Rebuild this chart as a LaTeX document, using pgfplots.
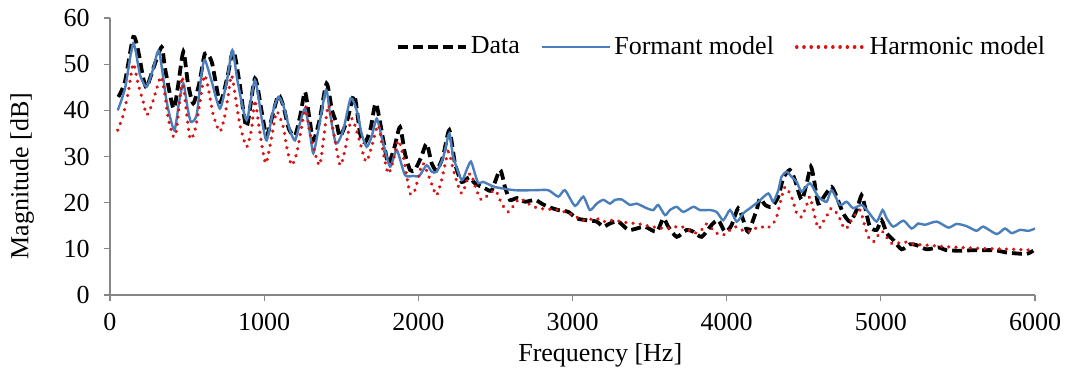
\documentclass[border=0pt]{standalone}
\usepackage{fontspec}
\setmainfont{Liberation Serif}
\usepackage{pgfplots}
\pgfplotsset{compat=1.18}
\definecolor{fblue}{RGB}{74,126,187}
\definecolor{hred}{RGB}{215,20,20}
\definecolor{axgray}{RGB}{134,134,134}
\begin{document}
\fontsize{13}{15.6}\selectfont
\begin{tikzpicture}
\useasboundingbox (-55pt,-42.5pt) rectangle (477.5pt,147.5pt);
\begin{axis}[
  at={(0pt,0pt)}, anchor=south west,
  scale only axis, width=462.5pt, height=138.5pt,
  xmin=0, xmax=6000, ymin=0, ymax=60,
  xtick={0,1000,...,6000}, ytick={0,10,...,60},
  axis x line*=bottom, axis y line*=left,
  axis line style={draw=axgray, line width=0.6pt},
  tick style={draw=axgray, line width=0.6pt},
  tick align=outside, major tick length=3pt,
  /pgf/number format/assume math mode=true,
  scaled x ticks=false,
  xticklabel={\pgfmathprintnumber[fixed,precision=0,1000 sep={}]{\tick}},
  xticklabel style={inner sep=0pt, anchor=north, yshift=-6pt},
  yticklabel style={inner sep=0pt, anchor=east, xshift=-7pt},
  xlabel={Frequency [Hz]}, ylabel={Magnitude [dB]},
  xlabel style={at={(axis description cs:0.53,-0.2166)}, anchor=center},
  ylabel style={at={(axis description cs:-0.0951,0.43)}, anchor=center},
  legend columns=3,
  legend style={draw=none, fill=none, at={(1.021,0.895)}, anchor=east,
    nodes={inner sep=1.5pt}, /tikz/every even column/.append style={column sep=9pt}},
  legend image code/.code={\draw[#1] (0pt,0pt) -- (34pt,0pt);},
]
\addplot[black, line width=1.9pt, dash pattern=on 5pt off 2.5pt, smooth, tension=0.4] coordinates {
(54,42.9)(97,46.2)(151,55.9)(184,52.7)(216,46.9)(238,45)(280,49)(335,53.7)(357,49.1)(411,40.4)
(440,45)(476,52.7)(505,46)(540,41.5)(580,46)(616,52.3)(660,50.5)(713,41.8)(760,47)(800,53)
(840,46)(886,36.4)(940,46.9)(984,39.7)(1016,34.5)(1055,39)(1092,43.3)(1124,41)(1160,36)(1200,34.5)
(1235,39)(1265,44.0)(1295,38)(1319,33.5)(1360,38)(1405,45.8)(1440,40)(1470,37.2)(1492,34.3)(1540,38)
(1585,43.3)(1622,35)(1654,33)(1690,36)(1725,41.5)(1773,33.5)(1805,28.5)(1845,32)(1881,36.4)(1913,30.7)
(1946,27.1)(1978,27.1)(2020,30)(2054,32.8)(2087,28.5)(2119,27)(2160,30)(2201,35.7)(2238,28.5)(2281,24.5)
(2330,25.5)(2367,24.2)(2432,23.1)(2476,22.7)(2530,27.1)(2562,23.4)(2594,20.6)(2640,21)(2692,20.2)(2757,20.6)
(2800,19.8)(2843,19.1)(2908,18.4)(2973,18.0)(3027,16.6)(3092,16.2)(3157,15.9)(3200,14.8)(3243,15.5)(3297,15.9)
(3362,14.1)(3416,14.4)(3470,14.8)(3546,13.7)(3589,16.6)(3621,14.8)(3676,12.6)(3740,14.1)(3784,13.7)(3838,12.6)
(3903,15.2)(3946,16.2)(3989,13.7)(4030,15)(4075,18.8)(4108,16.2)(4140,13.7)(4194,18.4)(4216,20.9)(4250,19.5)
(4292,19.1)(4335,21.3)(4367,25.3)(4410,27.1)(4443,24.9)(4486,20.6)(4519,24.2)(4546,27.8)(4567,24.9)(4594,19.8)
(4637,21.6)(4681,23.4)(4713,21.3)(4756,17.7)(4800,15.9)(4843,18.4)(4875,21.6)(4897,19.1)(4929,14.8)(4973,14.1)
(5005,16.2)(5038,13.4)(5081,11.9)(5135,9.9)(5189,11.0)(5232,10.8)(5297,9.9)(5373,10.3)(5427,9.7)(5513,9.6)
(5600,9.7)(5665,9.7)(5740,9.7)(5816,9.2)(5881,9.0)(5946,8.9)(5989,9.6)
};
\addlegendentry{Data}
\addplot[fblue, line width=1.2pt, smooth, tension=0.4] coordinates {
(50,40.0)(97,44.7)(151,54.5)(195,47.6)(238,45.1)(281,49.1)(318,52.8)(368,41.8)(417,35.7)(448,41.8)
(476,45.8)(504,40.4)(525,37.5)(562,39.0)(595,48.3)(616,50.9)(660,46.2)(713,40.4)(757,46.2)(794,53.0)
(828,46.2)(886,37.9)(940,46.5)(985,38)(1016,33.5)(1059,40)(1092,42.9)(1124,41.1)(1167,35.7)(1200,33.5)
(1232,37.2)(1265,40.4)(1297,35)(1319,30.7)(1351,35.7)(1401,44.4)(1427,39.3)(1466,32.8)(1513,35.7)(1561,42.6)
(1600,40)(1632,35)(1665,32.1)(1697,34.3)(1730,38.2)(1762,34.3)(1816,27.8)(1860,31.4)(1913,26)(1967,25.8)
(2006,25.8)(2054,28.1)(2087,26.7)(2119,26.7)(2162,29.9)(2201,35)(2227,29.9)(2281,24.9)(2313,27.1)(2341,28.9)
(2367,26.3)(2389,24.2)(2421,24.5)(2497,23.4)(2627,22.7)(2757,22.7)(2843,22.7)(2908,21.3)(2951,22.7)(3016,19.3)
(3070,21.3)(3113,18.4)(3157,19.8)(3200,20.6)(3243,19.8)(3275,20.6)(3319,20.7)(3373,19.5)(3416,19.8)(3481,18.8)
(3524,18.4)(3556,19.5)(3600,17.3)(3632,18.4)(3676,19.1)(3719,18.0)(3784,19.1)(3827,18.4)(3892,18.4)(3935,18.0)
(3978,16.2)(4022,18.4)(4065,15.9)(4108,17.7)(4151,18.8)(4205,20.2)(4270,22.0)(4302,20.2)(4335,22.7)(4356,25.6)
(4389,26.7)(4421,25.6)(4454,24.5)(4486,22.4)(4540,24.2)(4594,21.3)(4648,20.2)(4681,22.7)(4735,19.5)(4778,20.2)
(4821,18.8)(4875,19.5)(4919,18.0)(4973,15.9)(5011,18.4)(5038,16.6)(5081,14.8)(5146,16.1)(5200,14.4)(5243,15.5)
(5286,15.2)(5362,15.9)(5438,14.6)(5492,15.4)(5557,14.9)(5621,13.9)(5665,14.8)(5751,13.2)(5805,14.4)(5849,13.4)
(5903,14.1)(5957,13.9)(6000,14.4)
};
\addlegendentry{Formant model}
\addplot[hred, line width=1.8pt, line cap=round, dash pattern=on 0.01pt off 3.6pt, smooth, tension=0.4] coordinates {
(50,35.7)(86,39)(119,44)(151,50.1)(184,45.5)(216,41.8)(238,39.0)(270,41.1)(303,44.7)(331,47.3)
(357,43.3)(378,38.2)(411,34.3)(430,35.5)(454,42.6)(469,47.3)(486,42.6)(519,33.9)(551,35.7)(584,41.8)
(612,47.6)(638,44.7)(670,39)(713,35.4)(746,39)(767,43.3)(789,47.6)(815,42.6)(843,36.8)(886,32.1)
(919,36.1)(940,42.2)(973,35.0)(1010,28.5)(1049,34.3)(1081,39.7)(1124,36.4)(1146,32.1)(1178,28.1)(1211,30.7)
(1243,36.4)(1270,40.8)(1297,35)(1357,28.1)(1384,33.5)(1416,41.1)(1448,35.7)(1492,28.1)(1524,31.4)(1567,38.2)
(1611,34.3)(1660,28.9)(1697,32.1)(1740,36.8)(1773,30.7)(1805,26.3)(1838,29.2)(1870,33.5)(1903,29.9)(1946,22.0)
(1978,22.7)(2000,25.5)(2032,28.5)(2097,23.1)(2119,21.6)(2151,24.9)(2195,31.0)(2227,27.1)(2281,22.0)(2335,26.3)
(2378,22.7)(2411,20.6)(2497,22.7)(2540,19.8)(2584,18.0)(2627,19.8)(2659,20.9)(2713,19.8)(2778,18.8)(2908,18.4)
(3005,17.3)(3070,16.2)(3157,16.6)(3200,15.9)(3265,16.2)(3362,15.6)(3416,15.5)(3513,14.8)(3611,14.4)(3697,14.9)
(3751,14.1)(3795,13.4)(3848,14.4)(3870,15.4)(3935,13.4)(3978,13.0)(4022,14.1)(4054,14.8)(4097,14.1)(4140,13.7)
(4184,14.4)(4227,14.8)(4259,14.4)(4302,15.5)(4324,16.9)(4346,19.8)(4378,23.4)(4410,22.0)(4432,20.2)(4454,17.7)
(4486,16.9)(4519,19.5)(4540,21.3)(4562,18.4)(4594,14.4)(4627,15.9)(4659,17.7)(4681,18.8)(4724,17.3)(4756,14.8)
(4778,14.4)(4821,16.9)(4865,18.4)(4897,14.8)(4919,12.6)(4951,11.5)(4984,13.0)(5010,13.8)(5070,11.2)(5157,11.5)
(5211,11.0)(5297,10.8)(5405,10.5)(5513,10.3)(5643,10.1)(5751,10.0)(5859,9.9)(5989,9.7)
};
\addlegendentry{Harmonic model}
\end{axis}
\end{tikzpicture}
\end{document}
